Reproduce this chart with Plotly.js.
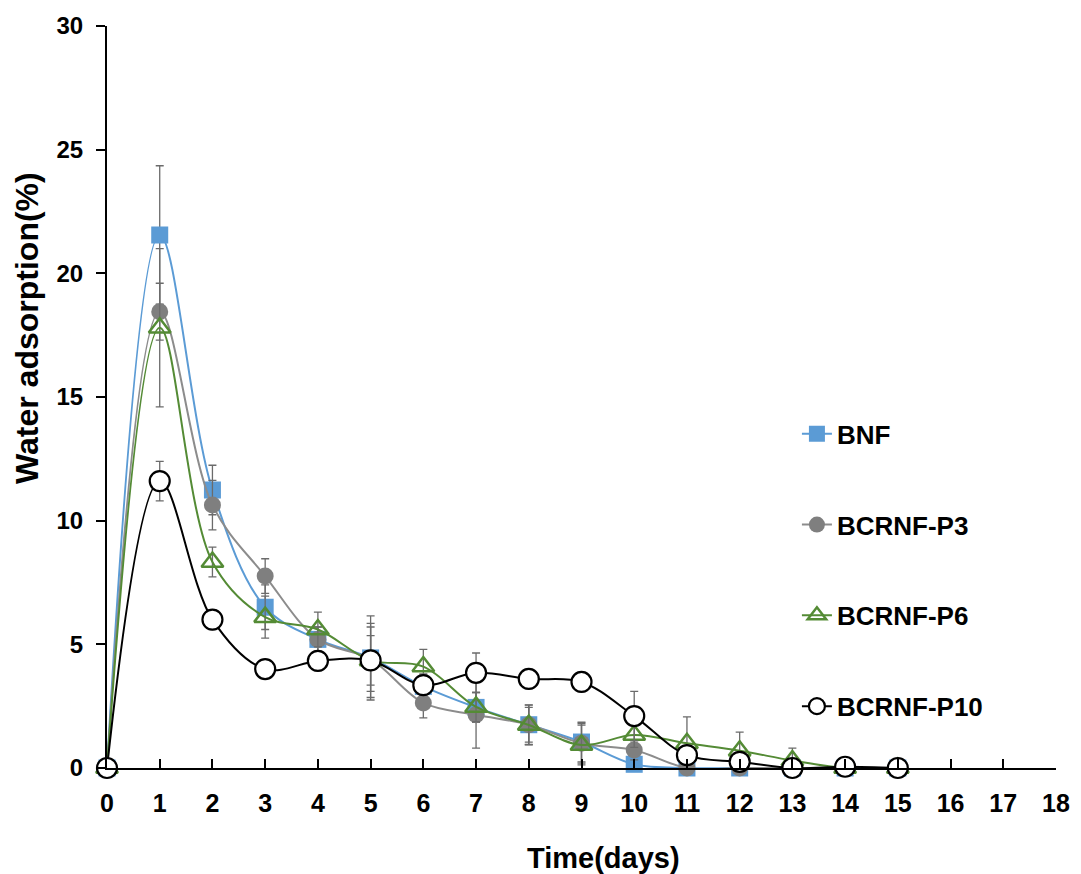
<!DOCTYPE html>
<html>
<head>
<meta charset="utf-8">
<script src="https://cdn.plot.ly/plotly-3.0.1.min.js"></script>
<style>html,body{margin:0;padding:0;background:#fff;}#chart{width:1081px;height:874px;}</style>
</head>
<body>
<div id="chart"></div>
<script>
const days = [0,1,2,3,4,5,6,7,8,9,10,11,12,13,14,15];
const bnf    = [0, 21.55, 11.24, 6.5, 5.2, 4.45, 3.3, 2.45, 1.75, 1.05, 0.15, 0, 0, 0, 0, 0];
const bnfErr = [0, 2.8, 1.0, 0.9, 0.5, 1.7, 0.5, 0.6, 0.8, 0.8, 0.3, 0, 0, 0, 0, 0];
const p3     = [0, 18.45, 10.63, 7.76, 5.2, 4.4, 2.63, 2.15, 1.75, 1.0, 0.73, 0, 0, 0, 0, 0];
const p3Err  = [0, 1.15, 1.0, 0.7, 0.5, 1.3, 0.6, 1.35, 0.7, 0.8, 0.4, 0, 0, 0, 0, 0];
const p6     = [0, 17.8, 8.33, 6.1, 5.6, 4.35, 4.1, 2.47, 1.74, 0.93, 1.33, 1.0, 0.7, 0.3, 0, 0];
const p6Err  = [0, 3.2, 0.6, 0.85, 0.7, 1.5, 0.7, 0.6, 0.8, 0.8, 0.5, 1.07, 0.75, 0.5, 0, 0];
const p10    = [0, 11.6, 6.0, 4.0, 4.33, 4.35, 3.35, 3.85, 3.6, 3.48, 2.1, 0.52, 0.25, 0.0, 0.05, 0.0];
const p10Err = [0, 0.8, 0.4, 0.3, 0.4, 1.0, 0.4, 0.8, 0.4, 0.4, 1.0, 0.3, 0.2, 0, 0, 0];
const names = ['BNF', 'BCRNF-P3', 'BCRNF-P6', 'BCRNF-P10'];
const xTicks = [0,1,2,3,4,5,6,7,8,9,10,11,12,13,14,15,16,17,18];
const xTitle = 'Time(days)';
const yTitle = 'Water adsorption(%)';

const FONT = 'Arial, Liberation Sans, sans-serif';
function err(a){ return {type:'data', array:a, visible:true, color:'#6b6b6b', thickness:1.3, width:4}; }

const traces = [
  {x:days, y:bnf, name:names[0], legendgroup:'a', error_y:err(bnfErr), mode:'lines+markers',
   line:{color:'#5B9BD5', width:2, shape:'spline', smoothing:1},
   marker:{symbol:'square', size:17, color:'#5B9BD5'}, cliponaxis:false},
  {x:days, y:p3, name:names[1], legendgroup:'b', error_y:err(p3Err), mode:'lines+markers',
   line:{color:'#8C8C8C', width:2, shape:'spline', smoothing:1},
   marker:{symbol:'circle', size:17, color:'#7F7F7F'}, cliponaxis:false},
  {x:days, y:p6, name:names[2], legendgroup:'c', error_y:err(p6Err), mode:'lines+markers',
   line:{color:'#548B35', width:2, shape:'spline', smoothing:1},
   marker:{symbol:'triangle-up-open', size:19, color:'#548B35', line:{width:2.5, color:'#548B35'}}, cliponaxis:false},
  {x:days, y:p10, name:names[3], legendgroup:'d', error_y:err(p10Err), mode:'lines+markers',
   line:{color:'#000000', width:2, shape:'spline', smoothing:1},
   marker:{symbol:'circle', size:20, color:'#FFFFFF', line:{width:2.2, color:'#000000'}}, cliponaxis:false}
];

const layout = {
  width:1081, height:874,
  margin:{l:107, r:25, t:26, b:106},
  paper_bgcolor:'#fff', plot_bgcolor:'#fff',
  font:{family:FONT, color:'#000'},
  showlegend:true,
  legend:{x:0.727, y:0.482, xanchor:'left', yanchor:'top', tracegroupgap:54,
          font:{size:26, family:FONT, weight:'bold', color:'#000'},
          bgcolor:'rgba(0,0,0,0)', itemwidth:30},
  xaxis:{range:[0,18], tickvals:xTicks, ticktext:xTicks.map(String), showgrid:false, zeroline:false,
         showline:true, linecolor:'#000', linewidth:2, ticks:'inside', ticklen:9, tickwidth:2, tickcolor:'#000',
         ticklabelstandoff:12,
         tickfont:{size:25, weight:'bold', family:FONT}},
  yaxis:{range:[0,30], tickvals:[0,5,10,15,20,25,30], showgrid:false, zeroline:false,
         showline:true, linecolor:'#000', linewidth:2, ticks:'outside', ticklen:9, tickwidth:2, tickcolor:'#000',
         ticklabelstandoff:8,
         tickfont:{size:24, weight:'bold', family:FONT}},
  annotations:[
    {text:xTitle, xref:'paper', yref:'paper', x:0.5227, y:-0.1213, xanchor:'center', yanchor:'middle',
     showarrow:false, font:{size:29, weight:'bold', family:FONT, color:'#000'}},
    {text:yTitle, xref:'paper', yref:'paper', x:-0.0843, y:0.593, xanchor:'center', yanchor:'middle',
     textangle:-90, showarrow:false, font:{size:32, weight:'bold', family:FONT, color:'#000'}}
  ]
};

Plotly.newPlot('chart', traces, layout, {displayModeBar:false, staticPlot:true});
</script>
</body>
</html>
